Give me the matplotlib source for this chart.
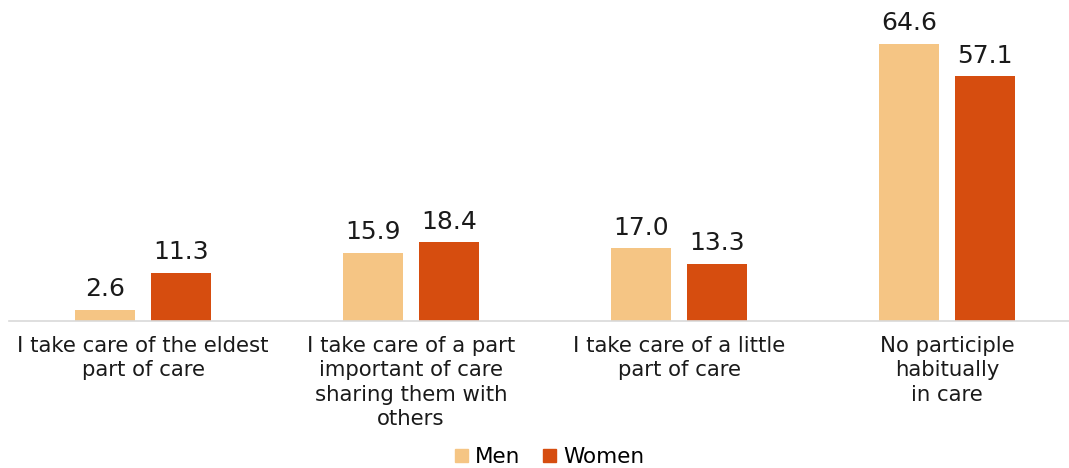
import matplotlib
matplotlib.use("Agg")
import matplotlib.pyplot as plt
import numpy as np
from matplotlib.patches import Patch

categories = ["I take care of the eldest\npart of care",
              "I take care of a part\nimportant of care\nsharing them with\nothers",
              "I take care of a little\npart of care",
              "No participle\nhabitually\nin care"]
men = [2.6, 15.9, 17.0, 64.6]
women = [11.3, 18.4, 13.3, 57.1]
series_names = ["Men", "Women"]
colors = ["#F5C584", "#D64D0F"]

plt.rcParams['font.family'] = ['DejaVu Sans']

W, H = 1069, 468
fig = plt.figure(figsize=(W/100, H/100), dpi=100)
ax = fig.add_axes([9/W, (H-321)/H, 1072/W, 321/H])

x = np.arange(len(categories))
bw = 0.224
off = 0.142
b1 = ax.bar(x - off, men, bw, color=colors[0])
b2 = ax.bar(x + off, women, bw, color=colors[1])
for bars, vals in ((b1, men), (b2, women)):
    for r, v in zip(bars, vals):
        ax.text(r.get_x() + r.get_width()/2, v + 2.0, f"{v:.1f}",
                ha='center', va='bottom', fontsize=18, color='#1a1a1a')

ax.set_xlim(-0.5, 3.5)
ax.set_ylim(0, 74.86)
ax.set_xticks(x)
ax.set_xticklabels(categories, fontsize=15.3, color='#1a1a1a', linespacing=1.26)
ax.tick_params(axis='x', length=0, pad=11)
ax.set_yticks([])
for s in ['top', 'right', 'left']:
    ax.spines[s].set_visible(False)
ax.spines['bottom'].set_color('#D9D9D9')
ax.spines['bottom'].set_linewidth(1.2)

handles = [Patch(color=c, label=n) for c, n in zip(colors, series_names)]
fig.legend(handles=handles, loc='center', bbox_to_anchor=(549.5/W, (H-457)/H), ncol=2,
           frameon=False, fontsize=15.5, handlelength=0.6, handleheight=0.6,
           handletextpad=0.3, columnspacing=1.1)

fig.savefig("out.png", dpi=100)
